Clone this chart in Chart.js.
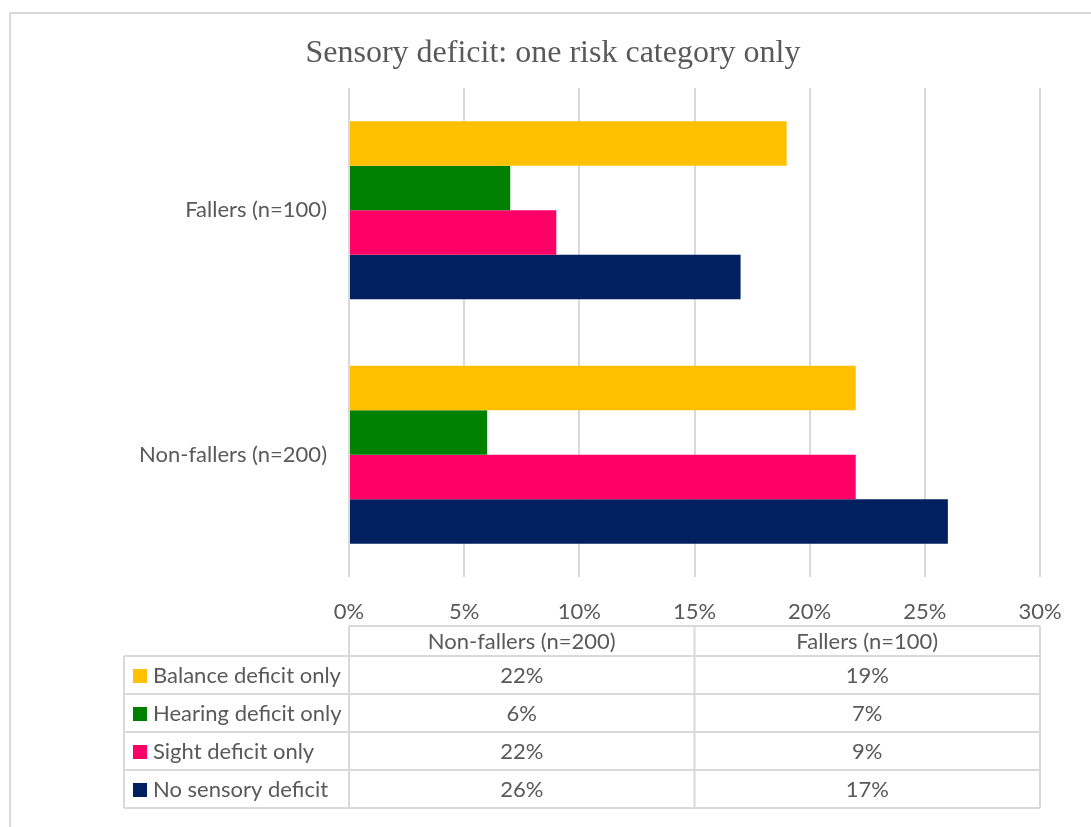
<!DOCTYPE html>
<html>
<head>
<meta charset="utf-8">
<script src="https://cdn.jsdelivr.net/npm/chart.js@4/dist/chart.umd.min.js"></script>
<style>
  html, body { margin: 0; padding: 0; background: #fff; }
  #wrap { width: 1091px; height: 827px; position: relative; }
</style>
</head>
<body>
<div id="wrap"><canvas id="sensoryChart" width="1091" height="827"></canvas></div>
<script>
const title = 'Sensory deficit: one risk category only';
const groups = ['Non-fallers (n=200)', 'Fallers (n=100)'];
const seriesNames = ['Balance deficit only', 'Hearing deficit only', 'Sight deficit only', 'No sensory deficit'];
const balance = [0.22, 0.19];
const hearing = [0.06, 0.07];
const sight = [0.22, 0.09];
const noDeficit = [0.26, 0.17];
const xTicks = [0, 0.05, 0.10, 0.15, 0.20, 0.25, 0.30];

const colors = {
    yellow: '#FFC000',
    green: '#008000',
    pink: '#FF0066',
    navy: '#002060',
    text: '#595959',
    grid: '#d9d9d9'
};
const labelFont = { family: 'Lato', size: 22 };

const pct = v => Math.round(v * 100) + '%';

// frame, title and the data table under the plot
const tablePlugin = {
    id: 'dataTable',
    afterDraw(chart) {
        const ctx = chart.ctx;
        const xs = chart.scales.x;
        const ds = chart.data.datasets;
        ctx.save();

        ctx.strokeStyle = colors.grid;
        ctx.lineWidth = 2;
        ctx.strokeRect(10, 13, 1200, 1000);

        ctx.fillStyle = colors.text;
        ctx.font = '32px "Liberation Serif"';
        ctx.textAlign = 'center';
        ctx.textBaseline = 'alphabetic';
        ctx.fillText(title, 553, 62);

        const left = xs.left, right = xs.right;
        const colW = (right - left) / groups.length;
        const headTop = 626, headBot = 656, rowH = 38;
        const keyLeft = 124;
        const bottom = headBot + rowH * ds.length;

        ctx.strokeStyle = colors.grid;
        ctx.lineWidth = 2;
        ctx.beginPath();
        ctx.moveTo(left, headTop); ctx.lineTo(right, headTop);
        for (let i = 0; i <= ds.length; i++) {
            const y = headBot + i * rowH;
            ctx.moveTo(keyLeft, y); ctx.lineTo(right, y);
        }
        ctx.moveTo(keyLeft, headBot); ctx.lineTo(keyLeft, bottom);
        for (let c = 0; c <= groups.length; c++) {
            const x = left + c * colW;
            ctx.moveTo(x, headTop); ctx.lineTo(x, bottom);
        }
        ctx.stroke();

        ctx.font = labelFont.size + 'px ' + labelFont.family;
        ctx.textBaseline = 'middle';
        ctx.fillStyle = colors.text;
        ctx.textAlign = 'center';
        groups.forEach((g, c) => {
            ctx.fillText(g, left + (c + 0.5) * colW, (headTop + headBot) / 2 + 1);
        });

        ds.forEach((d, r) => {
            const cy = headBot + r * rowH + rowH / 2 + 1;
            ctx.fillStyle = d.backgroundColor;
            ctx.fillRect(133, cy - 7, 14, 14);
            ctx.fillStyle = colors.text;
            ctx.textAlign = 'left';
            ctx.fillText(d.label, 153, cy);
            ctx.textAlign = 'center';
            d.data.forEach((v, c) => {
                ctx.fillText(pct(v), left + (c + 0.5) * colW, cy);
            });
        });
        ctx.restore();
    }
};

new Chart(document.getElementById('sensoryChart'), {
    type: 'bar',
    data: {
        labels: groups,
        datasets: [
            { label: seriesNames[0], data: balance, backgroundColor: colors.yellow },
            { label: seriesNames[1], data: hearing, backgroundColor: colors.green },
            { label: seriesNames[2], data: sight, backgroundColor: colors.pink },
            { label: seriesNames[3], data: noDeficit, backgroundColor: colors.navy }
        ]
    },
    options: {
        indexAxis: 'y',
        responsive: false,
        animation: false,
        layout: { padding: { left: 0, top: 88, right: 51, bottom: 0 } },
        datasets: { bar: { categoryPercentage: 0.728, barPercentage: 1, borderWidth: 0 } },
        plugins: { legend: { display: false }, title: { display: false }, tooltip: { enabled: false } },
        scales: {
            x: {
                min: 0,
                max: 0.30,
                afterBuildTicks: s => { s.ticks = xTicks.map(v => ({ value: v })); },
                afterFit: s => { s.height = 250; },
                grid: { color: colors.grid, lineWidth: 2, drawTicks: false },
                border: { display: false },
                ticks: { color: colors.text, font: labelFont, padding: 22, callback: v => pct(v) }
            },
            y: {
                reverse: true,
                afterFit: s => { s.width = 349; },
                grid: { display: false, drawTicks: false },
                border: { display: false },
                ticks: { color: colors.text, font: labelFont, padding: 22 }
            }
        }
    },
    plugins: [tablePlugin]
});
</script>
</body>
</html>
